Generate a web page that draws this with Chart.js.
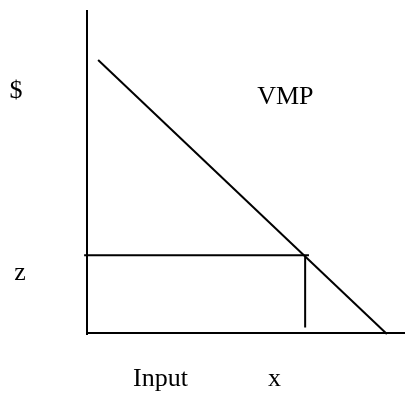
<!DOCTYPE html>
<html>
<head>
<meta charset="utf-8">
<script src="https://cdn.jsdelivr.net/npm/chart.js@4"></script>
<style>
  html, body { margin: 0; padding: 0; background: #fff; }
  #wrap { width: 405px; height: 395px; }
</style>
</head>
<body>
<div id="wrap"><canvas id="vmpChart" width="405" height="395"></canvas></div>
<script>
// diagram values (units on a 0..10 grid)
const vmpLine = [{ x: 0.35, y: 8.45 }, { x: 9.43, y: -0.03 }];
const zLine = [{ x: -0.09, y: 2.41 }, { x: 6.98, y: 2.41 }];
const xLine = [{ x: 6.86, y: 2.41 }, { x: 6.86, y: 0.17 }];
const yAxisLine = [{ x: 0, y: 10 }, { x: 0, y: -0.06 }];
const xAxisLine = [{ x: 0, y: 0 }, { x: 10, y: 0 }];

document.addEventListener('DOMContentLoaded', () => {
    const canvas = document.getElementById('vmpChart');
    const ctx = canvas.getContext('2d');

    const seg = (data) => ({
        data: data,
        borderColor: '#000',
        borderWidth: 2,
        pointRadius: 0,
        fill: false,
        clip: false,
        showLine: true,
    });

    new Chart(ctx, {
        type: 'scatter',
        data: {
            datasets: [
                seg(yAxisLine),
                seg(xAxisLine),
                seg(vmpLine),
                seg(zLine),
                seg(xLine),
            ]
        },
        options: {
            responsive: false,
            animation: false,
            layout: {
                padding: { top: 10, right: 0, bottom: 62, left: 87 }
            },
            scales: {
                x: { type: 'linear', min: 0, max: 10, display: false },
                y: { type: 'linear', min: 0, max: 10, display: false },
            },
            plugins: {
                legend: { display: false },
                tooltip: { enabled: false },
            }
        },
        plugins: [
            {
                id: 'labels',
                afterDraw: (chart) => {
                    const c = chart.ctx;
                    const sx = chart.scales.x;
                    const sy = chart.scales.y;
                    c.save();
                    c.fillStyle = '#000';
                    c.font = '26px "Liberation Serif", "Times New Roman", serif';
                    c.textBaseline = 'middle';
                    c.textAlign = 'center';
                    c.fillText('$', 16, sy.getPixelForValue(7.5));
                    c.fillText('z', 20, sy.getPixelForValue(1.86));
                    c.textAlign = 'left';
                    c.fillText('VMP', sx.getPixelForValue(5.35), sy.getPixelForValue(7.3));
                    c.textBaseline = 'alphabetic';
                    c.fillText('Input', 133, 386);
                    c.fillText('x', 268, 386);
                    c.restore();
                }
            }
        ]
    });
});
</script>
</body>
</html>
